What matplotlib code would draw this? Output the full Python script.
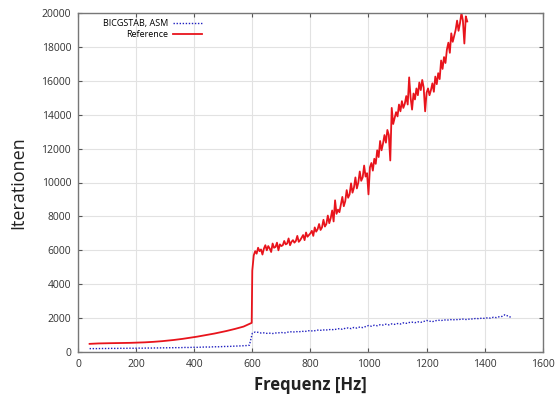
"""
Iterationen ueber Frequenz: BICGSTAB mit ASM gegen Referenz
"""

import matplotlib
matplotlib.use("Agg")
import matplotlib.pyplot as plt
import numpy as np

# Referenz, glatter Teil unterhalb 600 Hz
ref_freq_low = list(range(40, 600, 10)) + [598]
ref_iter_low = [480, 490, 500, 505, 510, 515, 518, 520, 522, 525,
                527, 530, 533, 536, 540, 545, 550, 556, 562, 570,
                578, 588, 600, 612, 626, 640, 656, 673, 690, 710,
                730, 752, 775, 800, 825, 850, 878, 905, 935, 965,
                995, 1025, 1058, 1090, 1125, 1160, 1195, 1235, 1275, 1315,
                1360, 1405, 1450, 1500, 1580, 1660, 1720]

# Referenz, verrauschter Teil ab 600 Hz
ref_freq_high = np.arange(600, 1345, 5)
ref_iter_high = [4800, 5700, 5950, 5800, 6150, 5950, 6050, 5750, 6100, 6300,
                 6000, 6250, 6100, 5900, 6400, 6150, 6200, 6450, 6000, 6350,
                 6250, 6300, 6550, 6350, 6400, 6700, 6300, 6500, 6600, 6450,
                 6550, 6850, 6500, 6600, 6750, 6900, 6600, 7050, 6800, 6900,
                 7000, 7150, 6850, 7350, 7100, 7250, 7550, 7200, 7350, 7800,
                 7400, 7550, 8050, 7600, 7900, 8350, 7700, 8950, 8150, 8400,
                 8250, 8700, 9150, 8600, 8900, 9550, 9100, 9300, 9950, 9400,
                 9700, 10300, 9650, 10000, 10650, 10100, 10300, 11000, 10350, 10550,
                 9300, 10900, 11150, 10700, 11400, 11100, 11900, 11500, 12450, 11900,
                 12300, 12800, 12350, 13100, 12800, 11300, 14400, 13450, 13800, 14150,
                 13900, 14600, 14200, 14800, 14400, 14650, 15100, 14600, 16200, 15000,
                 14300, 15250, 14900, 15550, 15150, 15900, 15450, 16050, 15600, 14200,
                 15300, 15550, 15150, 15450, 15850, 15350, 16250, 15800, 16450, 16100,
                 17200, 16700, 17400, 17050, 17850, 18250, 17650, 18800, 18300, 18650,
                 19000, 19550, 18950, 19400, 20000, 19550, 18200, 19800, 19500]

# BICGSTAB mit ASM-Vorkonditionierer
asm_freq = np.arange(40, 1500, 10)
asm_iter = [200, 200, 205, 200, 210, 205, 210, 210, 215, 210,
            215, 220, 215, 220, 225, 220, 225, 230, 225, 230,
            235, 230, 240, 235, 245, 240, 250, 245, 255, 250,
            260, 255, 265, 270, 265, 275, 280, 275, 285, 290,
            295, 290, 300, 310, 305, 315, 320, 330, 325, 340,
            345, 350, 360, 370, 380, 400,
            1100, 1180, 1160, 1120, 1130, 1100, 1110, 1090, 1120, 1130,
            1150, 1120, 1160, 1200, 1170, 1210, 1180, 1230, 1200, 1250,
            1260, 1230, 1280, 1300, 1270, 1320, 1290, 1340, 1310, 1350,
            1380, 1340, 1400, 1420, 1380, 1450, 1410, 1470, 1440, 1500,
            1560, 1520, 1580, 1550, 1610, 1590, 1640, 1600, 1660, 1630,
            1680, 1650, 1720, 1690, 1740, 1760, 1730, 1780, 1750, 1800,
            1860, 1820, 1790, 1840, 1880, 1850, 1900, 1870, 1920, 1890,
            1920, 1900, 1950, 1930, 1910, 1960, 1940, 1990, 1960, 2000,
            1980, 2020, 2000, 2050, 2030, 2080, 2100, 2200, 2120, 2050]

ref_freq = np.concatenate([ref_freq_low, ref_freq_high])
ref_iter = np.concatenate([ref_iter_low, ref_iter_high])

plt.rcParams["font.family"] = ["Open Sans", "DejaVu Sans"]

fig = plt.figure(figsize=(5.55, 4.0), dpi=100)
ax = fig.add_axes([0.1405, 0.12, 0.8375, 0.8475])

ax.plot(asm_freq, asm_iter, color="#2020c0", linestyle=(0, (1, 1.2)),
        linewidth=1.0, label="BICGSTAB, ASM")
ax.plot(ref_freq, ref_iter, color="#e8141c", linewidth=1.3, label="Reference")

ax.set_xlim(0, 1600)
ax.set_ylim(0, 20000)
ax.set_xticks(np.arange(0, 1601, 200))
ax.set_yticks(np.arange(0, 20001, 2000))
ax.grid(True, color="#e2e2e2", linewidth=0.8)
ax.set_axisbelow(True)

ax.tick_params(direction="in", top=True, right=True, length=3,
               labelsize=7.5, colors="#555555", labelcolor="#333333", pad=5)
for spine in ax.spines.values():
    spine.set_color("#777777")
    spine.set_linewidth(1.0)

ax.set_ylabel("Iterationen", fontsize=13, color="#222222", labelpad=10)
ax.set_xlabel("Frequenz [Hz]", fontsize=12, fontweight="bold",
              color="#222222", labelpad=4)

ax.legend(loc="upper left", bbox_to_anchor=(0.035, 1.008), markerfirst=False,
          frameon=False, fontsize=6.5, handlelength=3.2, handletextpad=0.5,
          labelspacing=0.15, borderaxespad=0.6)

fig.savefig("out.png", dpi=100)
